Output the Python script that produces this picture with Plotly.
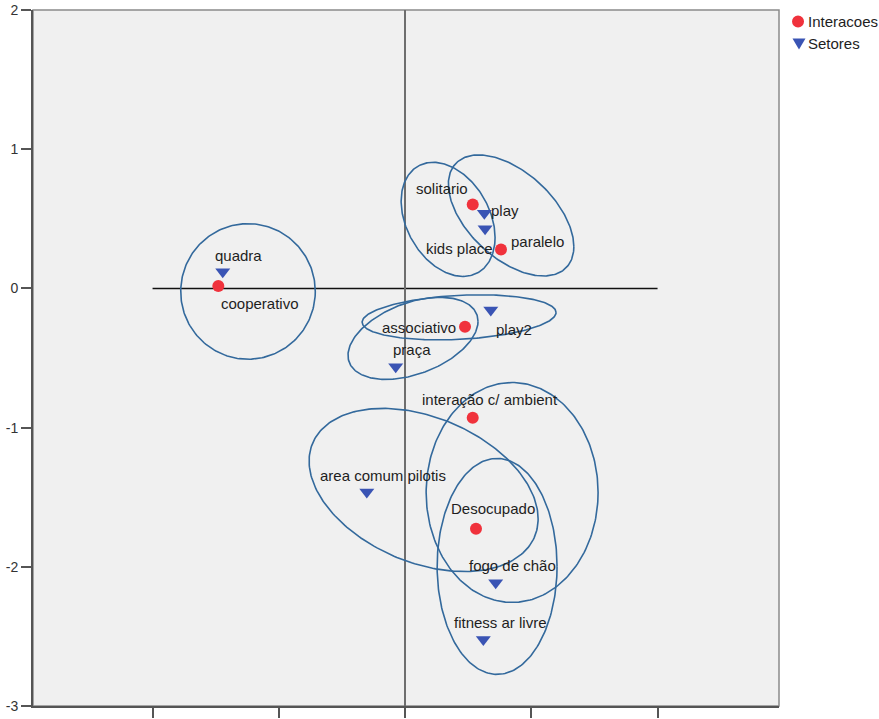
import numpy as np
import plotly.graph_objects as go

# Row points (interaction types)
inter_labels = ["cooperativo", "solitario", "paralelo", "associativo",
                "interação c/ ambient", "Desocupado"]
inter_x = [-1.479, 0.536, 0.760, 0.475, 0.536, 0.562]
inter_y = [0.017, 0.603, 0.280, -0.275, -0.929, -1.726]

# Column points (sectors)
setor_labels = ["quadra", "play", "kids place", "play2", "praça",
                "area comum pilotis", "fogo de chão", "fitness ar livre"]
setor_x = [-1.444, 0.628, 0.634, 0.679, -0.074, -0.303, 0.718, 0.620]
setor_y = [0.120, 0.539, 0.429, -0.156, -0.563, -1.463, -2.114, -2.522]

# Confidence ellipses: centre, spread along each dimension and correlation
ell_cx = [-1.244, 0.341, 0.840, 0.428, 0.063, 0.147, 0.848, 0.729]
ell_cy = [-0.022, 0.496, 0.524, -0.208, -0.359, -1.448, -1.466, -1.997]
ell_sx = [0.533, 0.372, 0.497, 0.768, 0.515, 0.907, 0.681, 0.475]
ell_sy = [0.487, 0.410, 0.435, 0.162, 0.295, 0.586, 0.790, 0.776]
ell_rho = [0.0, -0.319, -0.515, 0.214, 0.415, -0.354, 0.0, 0.0]

y_ticks = [2, 1, 0, -1, -2, -3]
x_ticks = [-2, -1, 0, 1, 2]

# label placement (pixel offset of text centre from its marker)
inter_offsets = [(42, 17), (-31, -16), (36, -8), (-46, 1), (17, -18), (17, -20)]
setor_offsets = [(16, -16), (21, -3), (-26, 20), (23, 19), (16, -17),
                 (16, -17), (17, -17), (17, -17)]

RED = "#f0323c"
BLUE = "#3a54b4"
ELL = "#33699c"
FONT = "Liberation Sans, Arial, sans-serif"

fig = go.Figure()

t = np.linspace(0, 2 * np.pi, 241)
for cx, cy, sx, sy, r in zip(ell_cx, ell_cy, ell_sx, ell_sy, ell_rho):
    # Cholesky factor of the 2x2 covariance maps the unit circle to the ellipse
    ex = cx + sx * np.cos(t)
    ey = cy + sy * (r * np.cos(t) + np.sqrt(1 - r * r) * np.sin(t))
    fig.add_trace(go.Scatter(x=ex, y=ey, mode="lines",
                             line=dict(color=ELL, width=1.6),
                             hoverinfo="skip", showlegend=False))

fig.add_trace(go.Scatter(x=setor_x, y=setor_y, mode="markers", name="Setores",
                         text=setor_labels, showlegend=False,
                         marker=dict(symbol="triangle-down", size=13, color=BLUE)))
fig.add_trace(go.Scatter(x=inter_x, y=inter_y, mode="markers", name="Interacoes",
                         text=inter_labels, showlegend=False,
                         marker=dict(symbol="circle", size=12, color=RED)))

annotations = []
for lab, x, y, (dx, dy) in zip(inter_labels + setor_labels,
                               inter_x + setor_x, inter_y + setor_y,
                               inter_offsets + setor_offsets):
    annotations.append(dict(x=x, y=y, xref="x", yref="y", text=lab,
                            showarrow=False, xanchor="center", yanchor="middle",
                            xshift=dx, yshift=-dy,
                            font=dict(family=FONT, size=15, color="#1e1e1e")))

# legend entries
legend_rows = [("Interacoes", 0.9835), ("Setores", 0.9519)]
for name, ly in legend_rows:
    annotations.append(dict(x=1.0362, y=ly, xref="paper", yref="paper", text=name,
                            showarrow=False, xanchor="left", yanchor="middle",
                            font=dict(family=FONT, size=15, color="#1e1e1e")))

shapes = [
    # frame of the plotting region
    dict(type="rect", xref="paper", yref="paper", x0=0, x1=1, y0=0, y1=1,
         line=dict(color="#8a8a8a", width=1.5), layer="below"),
    # horizontal reference line through the origin
    dict(type="line", xref="x", yref="y", x0=-2, x1=2, y0=0, y1=0,
         line=dict(color="#111111", width=1.5), layer="below"),
    # legend symbols
    dict(type="circle", xref="paper", yref="paper", xsizemode="pixel",
         ysizemode="pixel", xanchor=1.0255, yanchor=legend_rows[0][1],
         x0=-6, x1=6, y0=-6, y1=6, fillcolor=RED, line=dict(width=0)),
    dict(type="path", xref="paper", yref="paper", xsizemode="pixel",
         ysizemode="pixel", xanchor=1.0268, yanchor=legend_rows[1][1],
         path="M -6.5,5 L 6.5,5 L 0,-6 Z", fillcolor=BLUE, line=dict(width=0)),
]

fig.update_layout(
    width=879, height=719,
    margin=dict(l=33, r=100, t=10, b=13, autoexpand=False),
    paper_bgcolor="white", plot_bgcolor="#f0f0f0",
    showlegend=False,
    annotations=annotations, shapes=shapes,
    font=dict(family=FONT, size=14, color="#333333"),
)
fig.update_xaxes(range=[-2.947, 2.962], tickvals=x_ticks, showticklabels=False,
                 ticks="outside", ticklen=10, tickcolor="#555555", tickwidth=1.5,
                 showgrid=False, zeroline=True, zerolinecolor="#6e6e6e",
                 zerolinewidth=2, showline=True, linecolor="#555555", linewidth=2)
fig.update_yaxes(range=[-3, 2], tickvals=y_ticks, ticktext=[str(v) for v in y_ticks],
                 ticks="outside", ticklen=10, tickcolor="#555555", tickwidth=1.5,
                 showgrid=False, zeroline=False, showline=True,
                 linecolor="#555555", linewidth=2,
                 tickfont=dict(family=FONT, size=14, color="#333333"))

fig.write_html("out.html")
